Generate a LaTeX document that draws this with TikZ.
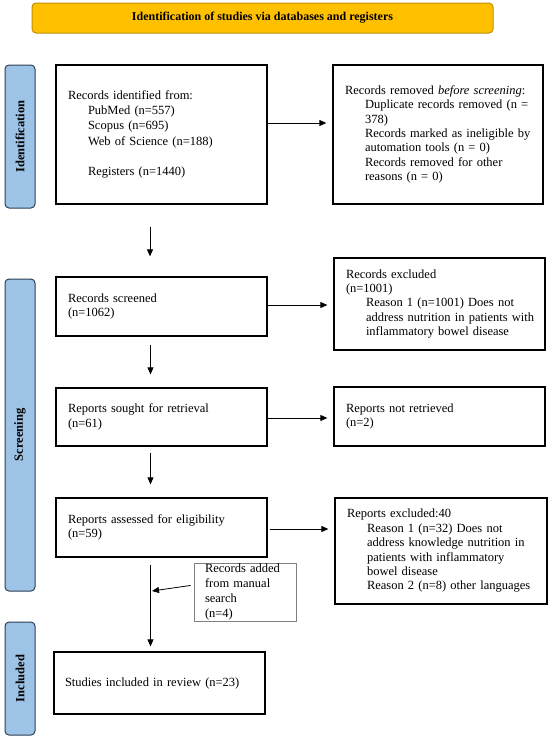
\documentclass[tikz,border=0pt]{standalone}
\usepackage{fontspec}
\setmainfont{Liberation Serif}
\usetikzlibrary{arrows.meta}
\definecolor{banfill}{HTML}{FFC000}
\definecolor{banline}{HTML}{BF9000}
\definecolor{labfill}{HTML}{9DC3E6}
\definecolor{labline}{HTML}{2E3F55}
\begin{document}
\begin{tikzpicture}[x=1pt,y=-1pt,
  txt/.style={font=\fontsize{12.5}{14.4}\selectfont},
  box/.style={draw=black,line width=1.3pt,inner xsep=12pt,inner ysep=0pt,align=left,txt},
  phase/.style={draw=labline,fill=labfill,line width=1pt,rounded corners=4pt,rotate=90,minimum height=30pt,inner sep=0pt,font=\bfseries\fontsize{12.5}{14}\selectfont},
  arr/.style={line width=0.8pt,-{Triangle[length=7pt,width=6pt]}}
]
\fill[white] (0,0) rectangle (550,740);
\useasboundingbox (0,0) rectangle (550,740);

% banner
\node[draw=banline,fill=banfill,line width=1pt,rounded corners=4pt,minimum width=461pt,minimum height=30pt,inner sep=0pt,font=\bfseries\fontsize{12}{14}\selectfont] (ban) at (262.5,18) {Identification of studies via databases and registers};

% phase labels
\node[phase,minimum width=143pt] (pid) at (20,136.5) {Identification};
\node[phase,minimum width=312pt] (pscr) at (20,435) {Screening};
\node[phase,minimum width=113pt] (pinc) at (20,678.5) {Included};

% left column
\node[box,minimum width=211pt,minimum height=139pt,text width=187pt,font=\fontsize{12.5}{15.2}\selectfont] (b1) at (161.5,134.5)
 {Records identified from:\\
  \hspace*{20pt}PubMed (n=557)\\
  \hspace*{20pt}Scopus (n=695)\\
  \hspace*{20pt}Web of Science (n=188)\\
  ~\\
  \hspace*{20pt}Registers (n=1440)};
\node[box,minimum width=211pt,minimum height=59pt,text width=187pt] (b2) at (161.5,306.5)
 {Records screened\\(n=1062)};
\node[box,minimum width=211pt,minimum height=58pt,text width=187pt] (b3) at (161.5,417)
 {Reports sought for retrieval\\(n=61)};
\node[box,minimum width=211pt,minimum height=59pt,text width=187pt] (b4) at (161.5,527.5)
 {Reports assessed for eligibility\\(n=59)};
\node[box,minimum width=211pt,minimum height=62pt,text width=189pt,inner xsep=11pt] (b5) at (159.5,683)
 {Studies included in review (n=23)};

% right column
\node[box,minimum width=210pt,minimum height=139pt,text width=186pt] (r1) at (438,134.5)
 {Records removed \textit{before screening}:\\
  \hspace*{20pt}\mbox{Duplicate records removed (n =}\\
  \hspace*{20pt}378)\\
  \hspace*{20pt}\mbox{Records marked as ineligible by}\\
  \hspace*{20pt}automation tools (n = 0)\\
  \hspace*{20pt}Records removed for other\\
  \hspace*{20pt}reasons (n = 0)};
\node[box,minimum width=211pt,minimum height=92pt,text width=187pt] (r2) at (439.5,304)
 {Records excluded\\
  (n=1001)\\
  \hspace*{20pt}\mbox{Reason 1 (n=1001) Does not}\\
  \hspace*{20pt}\mbox{address nutrition in patients with}\\
  \hspace*{20pt}\mbox{inflammatory bowel disease}};
\node[box,minimum width=211pt,minimum height=59pt,text width=187pt] (r3) at (439.5,416.5)
 {Reports not retrieved\\(n=2)};
\node[box,minimum width=212pt,minimum height=106pt,text width=188pt] (r4) at (441,551)
 {Reports excluded:40\\
  \hspace*{20pt}\mbox{Reason 1 (n=32) Does not}\\
  \hspace*{20pt}\mbox{address knowledge nutrition in}\\
  \hspace*{20pt}\mbox{patients with inflammatory}\\
  \hspace*{20pt}bowel disease\\
  \hspace*{20pt}\mbox{Reason 2 (n=8) other languages}};

% manual search box
\node[draw=gray,line width=0.8pt,minimum width=102pt,minimum height=58pt,text width=80pt,inner xsep=11pt,inner ysep=0pt,align=left,font=\fontsize{12.5}{14.7}\selectfont] (m) at (245,592)
 {Records added\\from manual\\search\\(n=4)};
\coordinate (mj) at (152,591);

% horizontal arrows
\draw[arr,shorten >=6pt] ([yshift=11.5pt]b1.east) -- ([yshift=11.5pt]b1.east -| r1.west);
\draw[arr,shorten >=6pt] ([yshift=1.5pt]b2.east) -- ([yshift=1.5pt]b2.east -| r2.west);
\draw[arr,shorten >=6pt] ([yshift=-1pt]b3.east) -- ([yshift=-1pt]b3.east -| r3.west);
\draw[arr,shorten <=2pt,shorten >=6pt] ([yshift=-1.5pt]b4.east) -- ([yshift=-1.5pt]b4.east -| r4.west);

% vertical arrows
\draw[arr,shorten <=22pt,shorten >=20pt] ([xshift=-11.5pt]b1.south) -- ([xshift=-11.5pt]b1.south |- b2.north);
\draw[arr,shorten <=8pt,shorten >=13pt] ([xshift=-11pt]b2.south) -- ([xshift=-11pt]b2.south |- b3.north);
\draw[arr,shorten <=6pt,shorten >=13pt] ([xshift=-11pt]b3.south) -- ([xshift=-11pt]b3.south |- b4.north);
\draw[arr,shorten <=7pt,shorten >=5pt] ([xshift=-11pt]b4.south) -- ([xshift=-11pt]b4.south |- b5.north);

% manual search arrow
\draw[arr,shorten <=3pt] ([yshift=7pt]m.west) -- (mj);
\end{tikzpicture}
\end{document}
